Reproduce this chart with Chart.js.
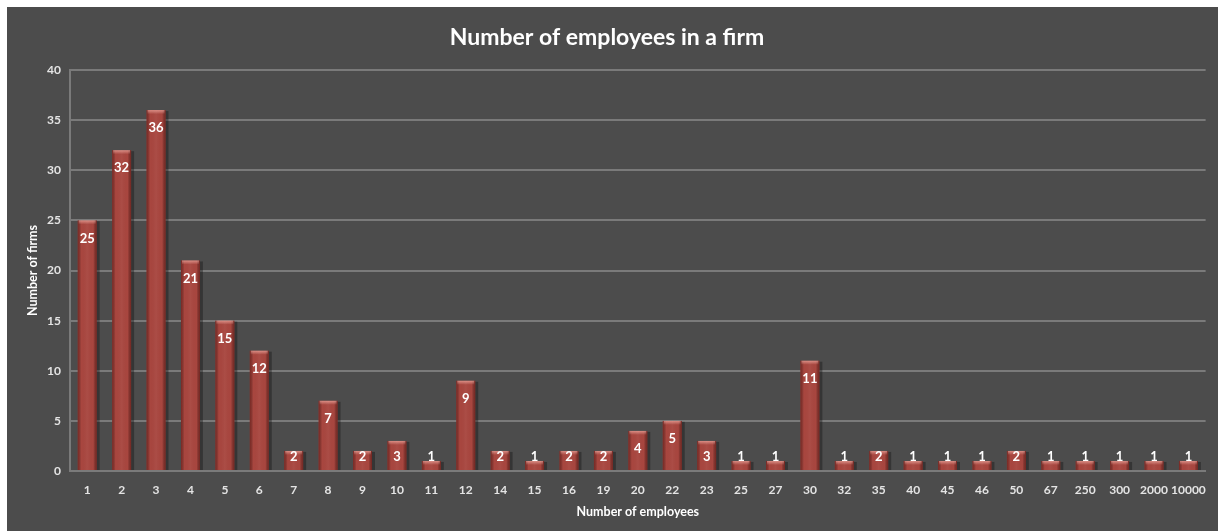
<!DOCTYPE html>
<html>
<head>
<meta charset="utf-8">
<script src="https://cdn.jsdelivr.net/npm/chart.js@4.4.1/dist/chart.umd.min.js"></script>
<style>
  html, body { margin: 0; padding: 0; background: #ffffff; }
  #wrap { position: absolute; left: 7px; top: 7px; width: 1211px; height: 524px; background: #4c4c4c; }
  canvas { display: block; }
</style>
</head>
<body>
<div id="wrap"><canvas id="c" width="1211" height="524"></canvas></div>
<script>
const categories = ["1","2","3","4","5","6","7","8","9","10","11","12","14","15","16","19","20","22","23","25","27","30","32","35","40","45","46","50","67","250","300","2000","10000"];
const firmCounts = [25,32,36,21,15,12,2,7,2,3,1,9,2,1,2,2,4,5,3,1,1,11,1,2,1,1,1,2,1,1,1,1,1];
const yTicks = [0,5,10,15,20,25,30,35,40];

const FONT = "Lato, 'Open Sans', sans-serif";

const barStyle = {
  id: 'barStyle',
  beforeDatasetsDraw(chart) {
    const ctx = chart.ctx;
    ctx.save();
    const meta = chart.getDatasetMeta(0);
    meta.data.forEach(bar => {
      const w = bar.width;
      const x0 = bar.x - w / 2;
      ctx.fillStyle = 'rgba(20,20,20,0.4)';
      ctx.fillRect(x0 + 2, bar.y + 1, w + 1, bar.base - bar.y - 1);
    });
    ctx.restore();
  },
  afterDatasetsDraw(chart) {
    const ctx = chart.ctx;
    const meta = chart.getDatasetMeta(0);
    ctx.save();
    meta.data.forEach((bar, i) => {
      const w = bar.width;
      const x0 = bar.x - w / 2;
      const h = bar.base - bar.y;
      const g = ctx.createLinearGradient(x0, 0, x0 + w, 0);
      g.addColorStop(0, 'rgba(90,20,16,0.55)');
      g.addColorStop(0.18, 'rgba(0,0,0,0)');
      g.addColorStop(0.5, 'rgba(255,255,255,0.04)');
      g.addColorStop(0.82, 'rgba(0,0,0,0)');
      g.addColorStop(1, 'rgba(90,20,16,0.6)');
      ctx.fillStyle = g;
      ctx.fillRect(x0, bar.y, w, h);
      const cap = Math.min(4, h);
      const gc = ctx.createLinearGradient(0, bar.y, 0, bar.y + cap);
      gc.addColorStop(0, 'rgba(255,190,180,0.6)');
      gc.addColorStop(1, 'rgba(255,190,180,0.0)');
      ctx.fillStyle = gc;
      ctx.fillRect(x0 + 1, bar.y, w - 2, cap);
      const v = firmCounts[i];
      const ly = Math.min(bar.y + 18, bar.base - 13);
      ctx.font = "bold 13px " + FONT;
      ctx.textAlign = 'center';
      ctx.textBaseline = 'middle';
      ctx.fillStyle = '#ffffff';
      ctx.fillText(String(v), bar.x, ly);
    });
    ctx.restore();
  }
};

new Chart(document.getElementById('c'), {
  type: 'bar',
  data: {
    labels: categories,
    datasets: [{
      label: 'Number of firms',
      data: firmCounts,
      backgroundColor: '#a8463f',
      borderWidth: 0,
      barPercentage: 0.55,
      categoryPercentage: 1.0
    }]
  },
  options: {
    responsive: false,
    animation: false,
    events: [],
    layout: { padding: { left: 0, right: 11, top: 0, bottom: 0 } },
    plugins: {
      legend: { display: false },
      tooltip: { enabled: false },
      title: {
        display: true,
        text: 'Number of employees in a firm',
        color: '#ffffff',
        font: { family: FONT, size: 23, weight: 'bold', lineHeight: 1.2 },
        padding: { top: 17, bottom: 18.4 }
      }
    },
    scales: {
      x: {
        grid: { display: false, drawTicks: false },
        border: { display: true, color: '#7a7a7a', width: 2 },
        ticks: { color: '#e4e4e4', font: { family: FONT, size: 12, weight: 'bold' }, padding: 12, maxRotation: 0, autoSkip: false },
        title: { display: true, text: 'Number of employees', color: '#ffffff', font: { family: FONT, size: 12.5, weight: 'bold' }, padding: { top: 0, bottom: 12 } },
        afterFit(scale) { scale.height = 60; }
      },
      y: {
        min: 0, max: 40,
        afterBuildTicks(scale) { scale.ticks = yTicks.map(v => ({ value: v })); },
        grid: { color: '#7a7a7a', lineWidth: 2, drawTicks: false },
        border: { display: true, color: '#7a7a7a', width: 2 },
        ticks: { color: '#e4e4e4', font: { family: FONT, size: 12, weight: 'bold' }, padding: 9 },
        title: { display: true, text: 'Number of firms', color: '#ffffff', font: { family: FONT, size: 12.5, weight: 'bold' }, padding: { top: 18, bottom: 0 } },
        afterFit(scale) { scale.width = 63; }
      }
    }
  },
  plugins: [barStyle]
});
</script>
</body>
</html>
